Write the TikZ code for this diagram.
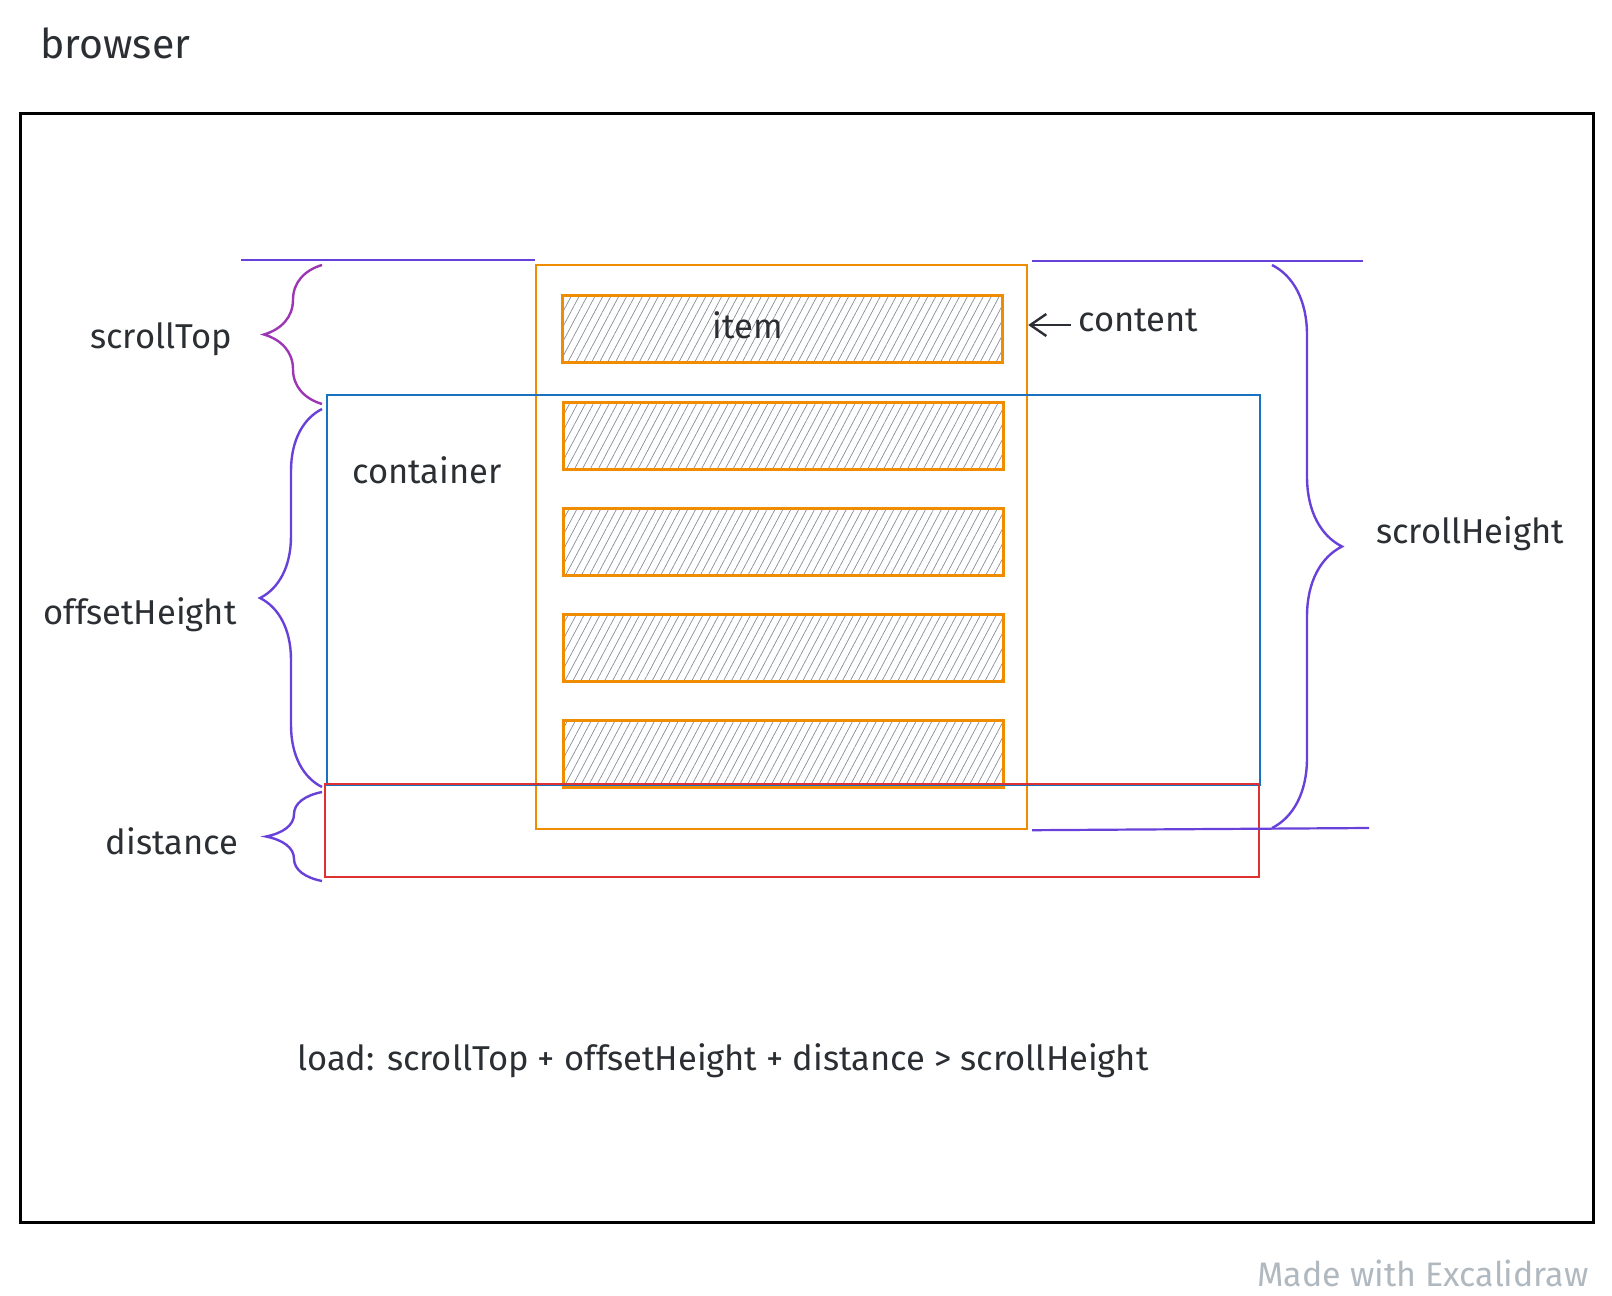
\documentclass[tikz,border=0pt]{standalone}
\usepackage{fontspec}
\setmainfont{Fira Sans}
\usetikzlibrary{patterns.meta,decorations.pathreplacing,arrows.meta}
\definecolor{ink}{HTML}{2B2F33}
\definecolor{orangeE}{HTML}{F08C00}
\definecolor{blueE}{HTML}{1971C2}
\definecolor{redE}{HTML}{E03131}
\definecolor{violetE}{HTML}{6741D9}
\definecolor{purpleE}{HTML}{9C36B5}
\definecolor{hatch}{HTML}{868E96}
\definecolor{footer}{HTML}{B0B8C0}

\begin{document}
\begin{tikzpicture}[x=1pt, y=-1pt,
browserbox/.style={draw=black, line width=2.8pt, anchor=north west},
contentbox/.style={draw=orangeE, line width=2.2pt, anchor=north west},
itembox/.style={draw=orangeE, line width=3pt, anchor=north west, minimum width=440pt, minimum height=67pt,
  pattern={Lines[angle=62, distance=7pt, line width=0.7pt]}, pattern color=hatch},
containerbox/.style={draw=blueE, line width=2.2pt, anchor=north west},
distancebox/.style={draw=redE, line width=2.2pt, anchor=north west},
txt/.style={text=ink, font=\fontsize{34.5}{40}\selectfont},
guide/.style={draw=violetE, line width=2.2pt},
bracket/.style={decorate, decoration={brace, amplitude=#1}, line width=2.4pt},
]
\useasboundingbox (0,0) rectangle (1612,1296);

\node[txt, anchor=west, font=\fontsize{41}{46}\selectfont] at (37,43) (browserlabel) {browser};
\node[browserbox, minimum width=1573pt, minimum height=1109pt] at (19,112) (browser) {};

\node[contentbox, minimum width=491pt, minimum height=564pt] at (535,264) (content) {};
\foreach \i in {0,...,4}
  \node[itembox] at (562,{295+106*\i}) (item\i) {};
\node[containerbox, minimum width=933pt, minimum height=390pt] at (326,394) (container) {};
\node[distancebox, minimum width=934pt, minimum height=93pt] at (324,783) (distance) {};

\node[txt] at (748,325) (itemlabel) {item};
\node[txt] at (427,470) (containerlabel) {container};
\node[txt] at (1138,320) (contentlabel) {content};
\draw[ink, line width=2.4pt, -{Straight Barb[length=16pt, width=22pt]}] (contentlabel.west) ++(-4,5) -- (content.east |- 0,325);

\draw[guide] (241,260) -- (content.north west |- 0,260);
\draw[guide] (content.north east) ++(4,-3) -- (1363,261);
\draw[guide] (content.south east) ++(4,0) -- (1369,828);

\draw[bracket=58pt, draw=purpleE] (322,404) -- (322,265);
\draw[bracket=62pt, draw=violetE] (322,787) -- (322,409);
\draw[bracket=56pt, draw=violetE] (322,881) -- (322,792);
\draw[bracket=70pt, draw=violetE] (1272,265) -- (1272,828);

\node[txt] at (161,339) (scrolltoplabel) {scrollTop};
\node[txt] at (140,615) (offsetlabel) {offsetHeight};
\node[txt] at (172,841) (distancelabel) {distance};
\node[txt] at (1470,534) (scrollheightlabel) {scrollHeight};

\node[txt] at (723,1061) (formula) {load: scrollTop + offsetHeight + distance > scrollHeight};
\node[text=footer, font=\fontsize{34}{40}\selectfont] at (1423,1273) (madewith) {Made with Excalidraw};
\end{tikzpicture}
\end{document}
